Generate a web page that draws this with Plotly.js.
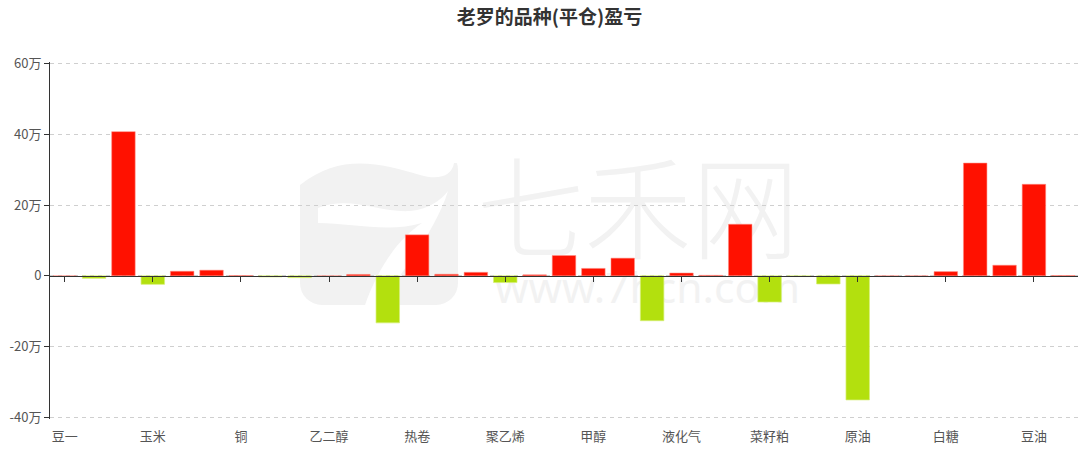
<!DOCTYPE html>
<html>
<head>
<meta charset="utf-8">
<script src="https://cdn.plot.ly/plotly-3.0.1.min.js"></script>
<style>
html,body{margin:0;padding:0;background:#fff;}
#chart{width:1087px;height:453px;}
</style>
</head>
<body>
<div id="chart"></div>
<script>
// Categories (only every third one is labelled in the chart)
var categories = ['豆一','豆粕','螺纹钢','玉米','铁矿石','焦炭','铜','沪锌','沪镍','乙二醇',
  'PTA','苯乙烯','热卷','不锈钢','聚丙烯','聚乙烯','PVC','燃料油','甲醇','沥青',
  '橡胶','液化气','棕榈油','纯碱','菜籽粕','菜籽油','黄金','原油','白银','棉花',
  '白糖','苹果','玻璃','豆油','豆二'];
// Profit / loss, unit: 万
var profitLoss = [0, -0.7, 40.8, -2.4, 1.3, 1.6, 0.1, -0.3, -0.5, 0,
  0.4, -13.3, 11.6, 0.45, 1.0, -1.9, 0.3, 5.75, 2.1, 5.0,
  -12.7, 0.8, 0.15, 14.6, -7.4, -0.2, -2.3, -35.1, 0, 0,
  1.2, 31.9, 3.0, 25.9, 0.1];
var labelledCategories = ['豆一','玉米','铜','乙二醇','热卷','聚乙烯','甲醇','液化气','菜籽粕','原油','白糖','豆油'];
var yTickVals = [-40, -20, 0, 20, 40, 60];
var yTickText = ['-40万', '-20万', '0', '20万', '40万', '60万'];
var titleText = '老罗的品种(平仓)盈亏';

var RED = '#ff1100', GREEN = '#b3e00e';
var barColors = profitLoss.map(function(v){ return v >= 0 ? RED : GREEN; });
var barLines = profitLoss.map(function(v){ return v >= 0 ? 'rgba(255,140,130,0.55)' : 'rgba(215,240,120,0.7)'; });

// light watermark (background decoration)
var wm = '<svg xmlns="http://www.w3.org/2000/svg" width="1028" height="357" viewBox="0 -1 1028 357">' +
  '<rect x="250" y="85" width="158" height="157" rx="22" ry="22" fill="#f2f2f2"/>' +
  '<path d="M250 122 C 290 90, 330 100, 370 112 C 390 118, 402 112, 404 100 L 410 100 L 410 85 L 250 85 Z" fill="#ffffff"/>' +
  '<path d="M268 145 C 300 132, 330 150, 360 148 C 380 146, 392 136, 398 128 C 385 170, 350 210, 330 242 L 315 242 C 330 200, 350 175, 372 160 C 340 170, 300 160, 268 160 Z" fill="#ffffff"/>' +
  '<text x="427" y="188" font-family="Noto Sans CJK SC" font-weight="300" font-size="112" fill="#f2f2f2" textLength="322" lengthAdjust="spacingAndGlyphs">七禾网</text>' +
  '<text x="445" y="240" font-family="Noto Sans, DejaVu Sans, sans-serif" font-size="42" fill="#f2f2f2" textLength="305" lengthAdjust="spacingAndGlyphs">www.7hcn.com</text>' +
  '</svg>';
var wmSrc = 'data:image/svg+xml;charset=utf-8,' + encodeURIComponent(wm);

var trace = {
  type: 'bar',
  x: categories,
  y: profitLoss,
  marker: { color: barColors, line: { color: barLines, width: 1 } },
  hoverinfo: 'x+y',
  showlegend: false
};

var axisFont = { family: '"Noto Sans CJK SC", "Noto Sans", sans-serif', size: 13, color: '#555' };

var layout = {
  width: 1087, height: 453,
  margin: { l: 50, r: 9, t: 62, b: 34, pad: 0 },
  paper_bgcolor: '#ffffff',
  plot_bgcolor: 'rgba(0,0,0,0)',
  bargap: 0.2,
  title: {
    text: '<b>' + titleText + '</b>',
    font: { family: '"Noto Sans CJK SC", sans-serif', size: 19, color: '#333' },
    x: 549.5/1087, xanchor: 'center', xref: 'container',
    y: 1 - 17/453, yanchor: 'middle', yref: 'container'
  },
  xaxis: {
    type: 'category',
    categoryorder: 'array', categoryarray: categories,
    range: [-0.5, categories.length - 0.5],
    tickmode: 'array', tickvals: labelledCategories, ticktext: labelledCategories,
    ticks: 'outside', ticklen: 5, tickcolor: 'rgba(0,0,0,0)',
    showline: false, showgrid: false, zeroline: false,
    tickfont: axisFont,
    fixedrange: true
  },
  xaxis2: {
    matches: 'x',
    overlaying: 'x',
    anchor: 'free',
    position: 40.5/101,
    type: 'category',
    tickmode: 'array', tickvals: labelledCategories,
    showticklabels: false,
    ticks: 'outside', ticklen: 5, tickcolor: '#333', tickwidth: 1,
    showline: true, linecolor: '#333', linewidth: 1,
    showgrid: false, zeroline: false,
    layer: 'above traces'
  },
  yaxis: {
    range: [-40.5, 60.5],
    tickmode: 'array', tickvals: yTickVals, ticktext: yTickText,
    ticks: 'outside', ticklen: 5, tickcolor: '#333',
    showline: true, linecolor: '#333', linewidth: 1,
    showgrid: true, gridcolor: '#cfcfcf', griddash: '4px,4px', gridwidth: 1,
    zeroline: false,
    tickfont: axisFont,
    fixedrange: true
  },
  images: [{
    source: wmSrc, xref: 'paper', yref: 'paper',
    x: 0, y: 1, sizex: 1, sizey: 1, xanchor: 'left', yanchor: 'top',
    sizing: 'stretch', layer: 'below'
  }]
};

// invisible helper trace so the zero-position category axis (ticks + line) is drawn
var axisTrace = { type: 'scatter', x: [categories[0]], y: [null], xaxis: 'x2', yaxis: 'y', mode: 'markers', showlegend: false, hoverinfo: 'skip' };

Plotly.newPlot('chart', [trace, axisTrace], layout, { displayModeBar: false, staticPlot: true });
</script>
</body>
</html>
